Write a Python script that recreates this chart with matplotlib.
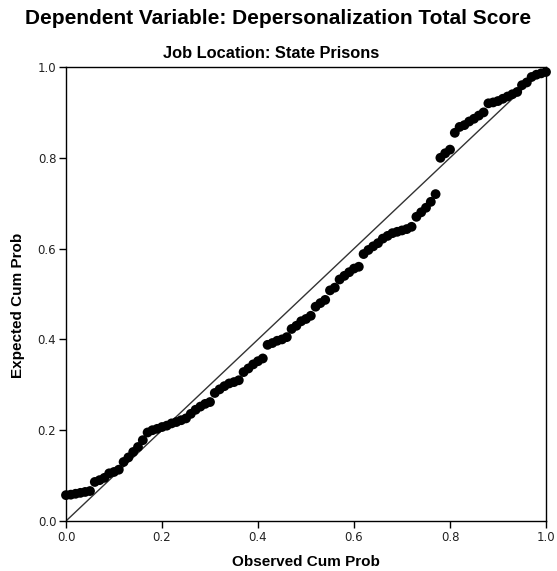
import matplotlib
matplotlib.use("Agg")
import matplotlib.pyplot as plt

# P-P plot values
observed_cum_prob = [
    0.00, 0.01, 0.02, 0.03, 0.04, 0.05, 0.06, 0.07, 0.08, 0.09,
    0.10, 0.11, 0.12, 0.13, 0.14, 0.15, 0.16, 0.17, 0.18, 0.19,
    0.20, 0.21, 0.22, 0.23, 0.24, 0.25, 0.26, 0.27, 0.28, 0.29,
    0.30, 0.31, 0.32, 0.33, 0.34, 0.35, 0.36, 0.37, 0.38, 0.39,
    0.40, 0.41, 0.42, 0.43, 0.44, 0.45, 0.46, 0.47, 0.48, 0.49,
    0.50, 0.51, 0.52, 0.53, 0.54, 0.55, 0.56, 0.57, 0.58, 0.59,
    0.60, 0.61, 0.62, 0.63, 0.64, 0.65, 0.66, 0.67, 0.68, 0.69,
    0.70, 0.71, 0.72, 0.73, 0.74, 0.75, 0.76, 0.77, 0.78, 0.79,
    0.80, 0.81, 0.82, 0.83, 0.84, 0.85, 0.86, 0.87, 0.88, 0.89,
    0.90, 0.91, 0.92, 0.93, 0.94, 0.95, 0.96, 0.97, 0.98, 0.99,
    1.00,
]
expected_cum_prob = [
    0.057, 0.058, 0.060, 0.062, 0.064, 0.066, 0.086, 0.090, 0.095, 0.105,
    0.108, 0.113, 0.130, 0.140, 0.152, 0.163, 0.178, 0.195, 0.200, 0.203,
    0.207, 0.210, 0.215, 0.218, 0.222, 0.226, 0.236, 0.245, 0.252, 0.258,
    0.262, 0.282, 0.290, 0.297, 0.303, 0.306, 0.310, 0.328, 0.336, 0.345,
    0.352, 0.358, 0.388, 0.392, 0.397, 0.400, 0.405, 0.423, 0.430, 0.440,
    0.445, 0.452, 0.472, 0.480, 0.487, 0.508, 0.514, 0.532, 0.540, 0.548,
    0.556, 0.560, 0.588, 0.597, 0.605, 0.612, 0.622, 0.628, 0.634, 0.637,
    0.640, 0.643, 0.648, 0.670, 0.680, 0.690, 0.703, 0.720, 0.800, 0.810,
    0.818, 0.855, 0.868, 0.872, 0.880, 0.886, 0.893, 0.900, 0.920, 0.922,
    0.925, 0.930, 0.935, 0.940, 0.945, 0.960, 0.966, 0.978, 0.983, 0.986,
    0.989,
]
tick_values = [0.0, 0.2, 0.4, 0.6, 0.8, 1.0]
tick_labels = ["0.0", "0.2", "0.4", "0.6", "0.8", "1.0"]

title = "Dependent Variable: Depersonalization Total Score"
subtitle = "Job Location: State Prisons"

W, H = 557, 571
fig = plt.figure(figsize=(W / 100, H / 100), dpi=100)
ax = fig.add_axes([66 / W, 50 / H, 480 / W, 454 / H])

# reference diagonal
ax.plot([0, 1], [0, 1], color="#333333", lw=1.0, zorder=1)
ax.scatter(observed_cum_prob, expected_cum_prob, s=50, c="black",
           edgecolors="none", zorder=2, clip_on=False)

ax.set_xlim(0, 1)
ax.set_ylim(0, 1)
ax.set_xticks(tick_values)
ax.set_xticklabels(tick_labels)
ax.set_yticks(tick_values)
ax.set_yticklabels(tick_labels)
ax.tick_params(direction="out", length=5, width=1, labelsize=8.5, pad=2,
               colors="black")
for lab in ax.get_xticklabels() + ax.get_yticklabels():
    lab.set_family("DejaVu Sans")
    lab.set_color("#222222")
for sp in ax.spines.values():
    sp.set_linewidth(1.0)
    sp.set_color("black")

ax.set_xlabel("Observed Cum Prob", fontsize=11, fontweight="bold",
              family=["Liberation Sans", "DejaVu Sans"], va="center")
ax.xaxis.set_label_coords(0.5, -(562 - 521) / 454)
ax.set_ylabel("Expected Cum Prob", fontsize=11, fontweight="bold",
              family=["Liberation Sans", "DejaVu Sans"])
ax.yaxis.set_label_coords(-0.085, 0.475)

fig.text(0.499, 1 - 19 / H, title, ha="center", va="center", fontsize=15,
         fontweight="bold", family=["Liberation Sans", "DejaVu Sans"])
fig.text(0.487, 1 - 53 / H, subtitle, ha="center", va="center", fontsize=11.8,
         fontweight="bold",
         family=["Liberation Sans Narrow", "Liberation Sans", "DejaVu Sans"])

fig.savefig("out.png", dpi=100)
